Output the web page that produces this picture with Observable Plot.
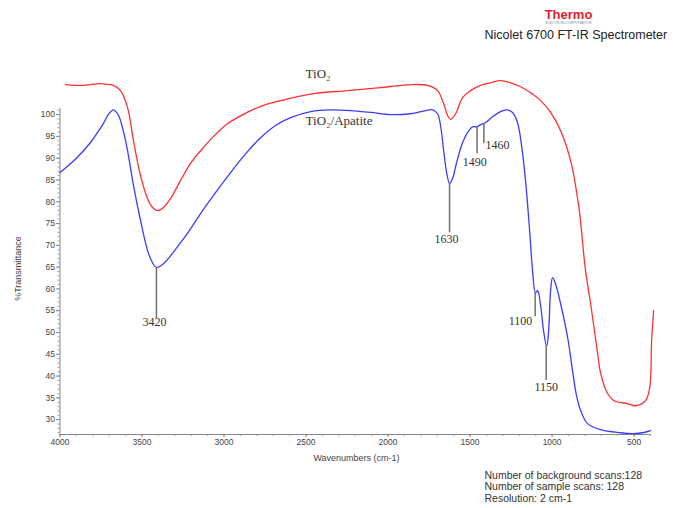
<!DOCTYPE html>
<html><head><meta charset="utf-8">
<script src="https://cdn.jsdelivr.net/npm/d3@7"></script>
<script src="https://cdn.jsdelivr.net/npm/@observablehq/plot@0.6"></script>
<style>body{margin:0;background:#fff}</style>
</head><body><div id="chart"></div>
<script>
// TiO2 spectrum (red)
const waveTiO2 = [3966,3875,3814,3753,3704,3674,3631,3588,3552,3509,3466,3436,3405,3369,3326,3265,3204,3143,3064,2979,2918,2838,2747,2655,2454,2247,2046,1924,1844,1759,1698,1661,1637,1619,1588,1546,1497,1436,1375,1314,1253,1192,1131,1070,1009,948,887,838,796,765,722,705,662,625,540,491,430,405,393,381];
const tTiO2 = [106.9,106.7,106.9,107.1,106.9,106.7,105.5,101.6,94.0,86.0,80.7,78.7,78.0,78.7,80.7,84.9,88.8,91.7,95.0,97.9,99.3,100.9,102.3,103.2,104.8,105.5,106.2,106.7,106.9,106.7,105.5,102.5,99.8,98.9,100.2,103.9,105.5,106.7,107.3,107.8,107.3,106.4,105.0,103.2,100.5,96.3,89.4,79.1,64.2,56.6,45.1,40.8,36.0,34.4,33.7,33.2,34.4,37.3,48.1,55.0];
// TiO2/Apatite spectrum (blue)
const waveApatite = [4000,3905,3814,3771,3735,3704,3674,3643,3619,3588,3552,3509,3466,3436,3412,3375,3326,3265,3204,3143,3052,2960,2869,2777,2686,2594,2472,2350,2228,2106,1985,1863,1771,1728,1698,1680,1661,1643,1625,1607,1582,1552,1515,1485,1460,1436,1405,1363,1314,1278,1241,1211,1186,1162,1137,1119,1101,1088,1070,1052,1033,1021,1009,997,979,948,905,875,851,826,784,705,583,503,448,399];
const tApatite = [86.7,89.8,93.6,95.9,98.0,100.1,101.1,99.8,97.0,91.7,83.7,75.7,68.8,66.0,64.9,65.6,67.6,70.6,73.8,77.3,82.1,86.7,91.0,94.7,97.5,99.3,100.7,101.1,100.9,100.5,100.0,100.2,100.9,101.1,100.2,97.5,91.7,86.7,84.2,85.3,89.0,92.9,95.9,97.2,97.2,97.7,98.2,99.5,100.7,101.1,100.5,98.2,92.9,84.9,73.4,64.2,59.1,59.6,56.2,50.4,46.8,50.4,59.6,62.6,61.2,56.6,48.8,41.2,35.5,32.1,29.1,27.7,27.0,26.8,27.0,27.5];

// axis ticks
const xTicks = [4000,3500,3000,2500,2000,1500,1000,500];
const xMinor = d3.range(400, 4001, 100);
const yTicks = [30,35,40,45,50,55,60,65,70,75,80,85,90,95,100];
const yMinor = d3.range(27, 102, 1);

// peak annotations (wavenumber of leader line, %T at curve, %T at line end, label position)
const peakLabels = ["3420","1630","1490","1460","1100","1150"];
const peakWave = [3412,1625,1457,1416,1103,1036];
const peakFrom = [64.9,84.2,97.1,97.9,59.2,47.0];
const peakTo = [53.2,72.9,91.0,93.3,53.6,39.0];
const peakLabelWave = [3424,1644,1471,1333,1192,1036];
const peakLabelT = [52.3,71.4,89.2,92.9,52.7,37.5];

// series labels
const seriesNames = ["TiO₂","TiO₂/Apatite"];
const seriesLabelWave = [2503,2503];
const seriesLabelT = [109.4,98.6];

const red = d3.zip(waveTiO2, tTiO2).map(([w,t]) => ({w,t}));
const blue = d3.zip(waveApatite, tApatite).map(([w,t]) => ({w,t}));
const peaks = peakLabels.map((label,i) => ({label, x: peakWave[i], y1: peakFrom[i], y2: peakTo[i], tx: peakLabelWave[i], ty: peakLabelT[i]}));
const series = seriesNames.map((name,i) => ({name, x: seriesLabelWave[i], y: seriesLabelT[i]}));

const ML = 59.5, MT = 108;
function note(str, x, y, opts) {
  return Plot.text([str], Object.assign({text: d => d, frameAnchor: "top-left", dx: x - ML, dy: y - MT, lineAnchor: "middle", textAnchor: "start", fill: "#333"}, opts));
}

const chart = Plot.plot({
  width: 680, height: 508,
  marginLeft: ML, marginRight: 30, marginTop: MT, marginBottom: 74,
  x: {domain: [4000, 400], axis: null},
  y: {domain: [26.6, 101.4], axis: null},
  style: {fontFamily: "'Liberation Sans', Arial, sans-serif", background: "#fff", overflow: "visible"},
  marks: [
    Plot.ruleX([4000], {stroke: "#888", strokeWidth: 1}),
    Plot.ruleY([26.6], {stroke: "#888", strokeWidth: 1}),
    Plot.axisY(yMinor, {tickSize: 2, tickFormat: () => "", stroke: "#999", label: null}),
    Plot.axisY(yTicks, {tickSize: 3.5, tickPadding: 1.5, fontSize: 8.5, fill: "#444", stroke: "#888", label: null, ariaLabel: "yticks"}),
    Plot.axisX(xMinor, {tickSize: 2, tickFormat: () => "", stroke: "#999", label: null}),
    Plot.axisX(xTicks, {tickSize: 3, tickPadding: 1.5, fontSize: 8.5, fill: "#444", stroke: "#888", label: null, tickFormat: d => String(d), ariaLabel: "xticks"}),
    Plot.line(red, {x: "w", y: "t", stroke: "#ff3030", strokeWidth: 1.3, curve: "catmull-rom"}),
    Plot.line(blue, {x: "w", y: "t", stroke: "#3c3cff", strokeWidth: 1.3, curve: "catmull-rom"}),
    Plot.ruleX(peaks, {x: "x", y1: "y1", y2: "y2", stroke: "#707070", strokeWidth: 1.5}),
    Plot.text(peaks, {x: "tx", y: "ty", text: "label", fontFamily: "'Liberation Serif', 'DejaVu Serif', serif", fontSize: 12, fill: "#333", ariaLabel: "peaks"}),
    Plot.text(series, {x: "x", y: "y", text: "name", textAnchor: "start", fontFamily: "'Liberation Serif', 'DejaVu Serif', serif", fontSize: 13, fill: "#333", ariaLabel: "series"}),
    note("%Transmittance", 18, 268, {rotate: -90, textAnchor: "middle", fontSize: 9, fill: "#444"}),
    note("Wavenumbers (cm-1)", 356, 458, {textAnchor: "middle", fontSize: 9, fill: "#444", ariaLabel: "xlabel"}),
    note("Thermo", 568, 14, {textAnchor: "middle", fontSize: 13, fontWeight: "bold", fill: "#e0202a", ariaLabel: "thermo"}),
    note("ELECTRON CORPORATION", 568, 22.5, {textAnchor: "middle", fontSize: 3.5, fill: "#888"}),
    note("Nicolet 6700 FT-IR Spectrometer", 484, 34, {fontSize: 12.5, fill: "#222"}),
    note("Number of background scans:128", 484, 475, {fontSize: 10.5}),
    note("Number of sample scans: 128", 484, 486.5, {fontSize: 10.5}),
    note("Resolution: 2 cm-1", 484, 498, {fontSize: 10.5})
  ]
});
const svg = d3.select(chart);
svg.selectAll('g[aria-label="peaks"] text').attr("letter-spacing", "0.8");
svg.selectAll('g[aria-label="series"] text').attr("letter-spacing", "1.2");
svg.selectAll('g[aria-label="thermo"] text').attr("letter-spacing", "0.8");
document.getElementById("chart").append(chart);
</script>
</body></html>
